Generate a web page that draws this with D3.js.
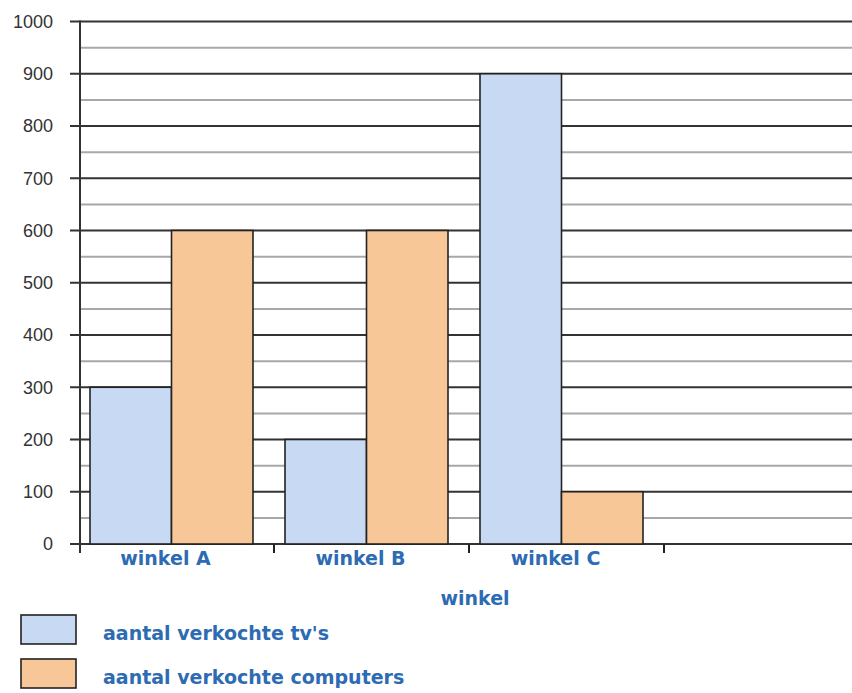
<!DOCTYPE html>
<html><head><meta charset="utf-8">
<script src="https://cdn.jsdelivr.net/npm/d3@7"></script>
<style>body{margin:0;background:#fff;}svg{display:block;}</style>
</head><body>
<svg id="c" width="852" height="693"></svg>
<script>
const categories = ["winkel A", "winkel B", "winkel C", ""];
const seriesNames = ["aantal verkochte tv's", "aantal verkochte computers"];
const tvs = [300, 200, 900, null];
const computers = [600, 600, 100, null];
const yTicks = [0,100,200,300,400,500,600,700,800,900,1000];
const yMinor = [50,150,250,350,450,550,650,750,850,950];
const colors = ["#c8d9f4", "#f7c797"];
const labelColor = "#2d6bb2";

(function(){
const svg = d3.select("#c");
const L = 80, R = 860, T = 21.5, B = 544;
const x = d3.scaleBand().domain(categories.map((c,i)=>i)).range([L, R]).padding(0);
const y = d3.scaleLinear().domain([0,1000]).range([B, T]);
const xs = d3.scaleBand().domain([0,1]).range([0, 163]);
const font = "DejaVu Sans, sans-serif";

svg.append("g").selectAll("line").data(yMinor).join("line")
  .attr("x1", L).attr("x2", 852).attr("y1", d=>y(d)).attr("y2", d=>y(d))
  .attr("stroke", "#a8a8a8").attr("stroke-width", 2);
svg.append("g").selectAll("line").data(yTicks).join("line")
  .attr("x1", L-10).attr("x2", 852).attr("y1", d=>y(d)).attr("y2", d=>y(d))
  .attr("stroke", "#333").attr("stroke-width", 2);
svg.append("g").selectAll("text").data(yTicks).join("text")
  .attr("x", 53).attr("y", d=>y(d)).attr("dy", "0.36em").attr("text-anchor","end")
  .attr("font-family","Liberation Sans, Arial, sans-serif").attr("font-size", 18)
  .attr("fill","#333").text(d=>d);

const data = categories.map((c,i)=>({i, vals:[tvs[i], computers[i]]})).filter(d=>d.vals[0]!=null);
const groups = svg.append("g").selectAll("g").data(data).join("g")
  .attr("transform", d=>`translate(${x(d.i)+10},0)`);
groups.selectAll("rect").data(d=>d.vals.map((v,k)=>({v,k}))).join("rect")
  .attr("x", d=>xs(d.k)).attr("width", xs.bandwidth())
  .attr("y", d=>y(d.v)).attr("height", d=>y(0)-y(d.v))
  .attr("fill", d=>colors[d.k]).attr("stroke","#222").attr("stroke-width",1.6);

svg.append("line").attr("x1", L).attr("x2", L).attr("y1", T-1).attr("y2", B+9)
  .attr("stroke","#333").attr("stroke-width",2);
svg.append("g").selectAll("line").data([1,2,3]).join("line")
  .attr("x1", d=>x(d)-1).attr("x2", d=>x(d)-1).attr("y1", B).attr("y2", B+9)
  .attr("stroke","#222").attr("stroke-width",2);

svg.append("g").selectAll("text").data(data).join("text")
  .attr("x", d=>x(d.i)+x.bandwidth()/2-12).attr("y", 565).attr("text-anchor","middle")
  .attr("font-family",font).attr("font-size",19).attr("font-weight",600)
  .attr("fill", labelColor).text(d=>categories[d.i]);
svg.append("text").attr("x", 475).attr("y", 605).attr("text-anchor","middle")
  .attr("font-family",font).attr("font-size",19).attr("font-weight",600)
  .attr("fill", labelColor).text("winkel");

const lg = svg.append("g").selectAll("g").data(seriesNames).join("g")
  .attr("transform", (d,i)=>`translate(21,${615+i*44})`);
lg.append("rect").attr("width",55).attr("height",29).attr("fill",(d,i)=>colors[i])
  .attr("stroke","#222").attr("stroke-width",1.6);
lg.append("text").attr("x", 82).attr("y", 25)
  .attr("font-family",font).attr("font-size",19).attr("font-weight",600)
  .attr("fill", labelColor).text(d=>d);
})();
</script>
</body></html>
